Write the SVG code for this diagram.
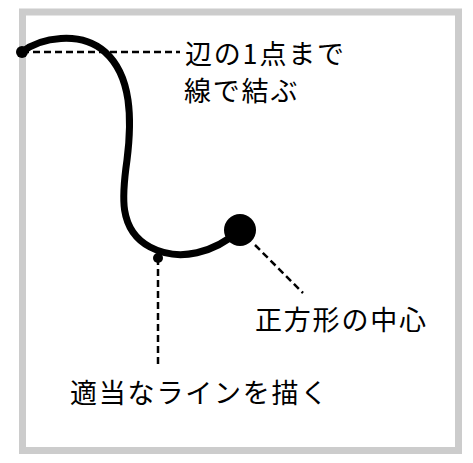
<svg xmlns="http://www.w3.org/2000/svg" width="473" height="463" viewBox="0 0 473 463">
<style>
.lbl{font-family:"Noto Sans CJK JP","Noto Sans CJK SC",sans-serif;font-size:27px;letter-spacing:1.8px;fill:#000}
.dash{fill:none;stroke:#000;stroke-width:2.5;stroke-dasharray:7 4}
</style>
<rect x="22.5" y="12" width="436" height="438.5" fill="#fff" stroke="#cccccc" stroke-width="7"/>
<g id="connectors">
<path id="curve" d="M22,52 C40,38 80,30 105,52 C132,76 132,120 127,160 C122,195 118,230 150,247 C180,263 215,252 240,230" fill="none" stroke="#000" stroke-width="7" stroke-linecap="round"/>
<line class="dash" x1="22" y1="52" x2="180" y2="52"/>
<line class="dash" x1="158" y1="258" x2="158" y2="368"/>
<line class="dash" x1="255" y1="245" x2="303" y2="293"/>
</g>
<g id="edge-point"><circle cx="22" cy="52" r="6"/></g>
<g id="center-point"><circle cx="240" cy="230" r="16"/></g>
<g id="line-point"><circle cx="158" cy="258" r="5"/></g>
<g id="label-edge"><text class="lbl" x="185" y="64">辺の1点まで</text><text class="lbl" x="184" y="101">線で結ぶ</text></g>
<g id="label-center"><text class="lbl" x="255" y="330">正方形の中心</text></g>
<g id="label-line"><text class="lbl" x="70" y="403">適当なラインを描く</text></g>
</svg>
